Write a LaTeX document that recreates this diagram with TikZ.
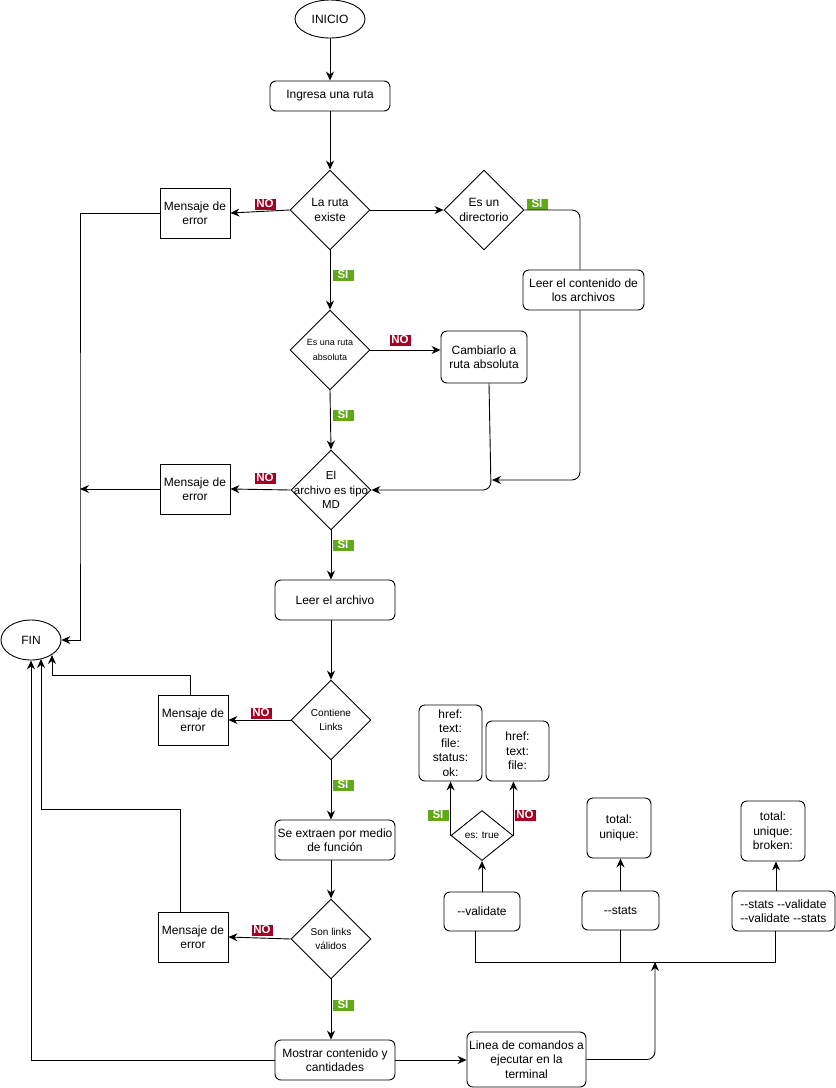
\documentclass[tikz,border=0pt]{standalone}
\usepackage{fontspec}
\setmainfont{Liberation Sans}
\usetikzlibrary{shapes.geometric,arrows.meta,calc}
\definecolor{nored}{HTML}{A20025}
\definecolor{sigreen}{HTML}{60A917}
\begin{document}
\begin{tikzpicture}[x=1pt,y=-1pt,
  base/.style={draw, line width=0.9pt, align=center, inner sep=1pt, font=\fontsize{12}{14.5}\selectfont},
  rbox/.style={base, rounded corners=6pt},
  sbox/.style={base},
  oval/.style={base, ellipse},
  dia/.style={draw, line width=0.9pt, shape=diamond, inner sep=0pt, minimum width=80pt, minimum height=80pt},
  dtext/.style={align=center, inner sep=0pt, font=\fontsize{12}{14.5}\selectfont},
  dsmall/.style={align=center, inner sep=0pt, font=\fontsize{10}{14.5}\selectfont},
  dtiny/.style={align=center, inner sep=0pt, font=\fontsize{9}{14.5}\selectfont},
  lab/.style={inner sep=0pt, minimum width=21pt, minimum height=11pt, text=white, font=\fontsize{11.5}{11}\selectfont\bfseries},
  nolab/.style={lab, fill=nored},
  silab/.style={lab, fill=sigreen},
  arr/.style={line width=0.9pt, -{Stealth[length=9pt,width=8pt,inset=3pt]}},
  ln/.style={line width=0.9pt}
]
\useasboundingbox (0,0) rectangle (836,1088);

% main column
\node[oval, minimum width=70pt, minimum height=38pt] (ini) at (330,19) {INICIO};
\node[rbox, minimum width=120pt, minimum height=30pt] (ing) at (330,96) {Ingresa una ruta};
\node[dia, label={[dtext]center:La ruta\\existe}] (d1) at (330,210) {};
\node[sbox, minimum width=70pt, minimum height=50pt] (m1) at (195,213) {Mensaje de\\error};
\node[dia, label={[dtext]center:Es un\\directorio}] (d2) at (484,210) {};
\node[rbox, minimum width=121pt, minimum height=40pt] (lc) at (583.5,290) {Leer el contenido de\\los archivos};
\node[dia, label={[dtiny]center:Es una ruta\\absoluta}] (d3) at (330,350) {};
\node[rbox, minimum width=86pt, minimum height=52pt] (cam) at (484,357) {Cambiarlo a\\ruta absoluta};
\node[dia, label={[dtext, font=\fontsize{11.5}{14.5}\selectfont]center:El\\archivo es tipo\\MD}] (d4) at (331,490) {};
\node[sbox, minimum width=70pt, minimum height=50pt] (m2) at (195,489) {Mensaje de\\error};
\node[rbox, minimum width=120pt, minimum height=40pt] (la) at (335,600) {Leer el archivo};
\node[oval, minimum width=60pt, minimum height=40pt] (fin) at (31,640) {FIN};
\node[dia, label={[dsmall]center:Contiene\\Links}] (d5) at (331,720) {};
\node[sbox, minimum width=70pt, minimum height=50pt] (m3) at (193,720) {Mensaje de\\error};
\node[rbox, minimum width=120pt, minimum height=40pt] (se) at (335,840) {Se extraen por medio\\de función};
\node[dia, label={[dsmall]center:Son links\\válidos}] (d6) at (331,939) {};
\node[sbox, minimum width=70pt, minimum height=50pt] (m4) at (193,937) {Mensaje de\\error};
\node[rbox, minimum width=120pt, minimum height=40pt] (mos) at (335,1060) {Mostrar contenido y\\cantidades};
\node[rbox, minimum width=119pt, minimum height=55pt] (lin) at (526.5,1059.5) {Linea de comandos a\\ejecutar en la\\terminal};

% right group
\node[rbox, minimum width=63pt, minimum height=76pt] (hA) at (450.5,743) {href:\\text:\\file:\\status:\\ok:};
\node[rbox, minimum width=63pt, minimum height=60pt] (hB) at (517.5,751) {href:\\text:\\file:};
\node[dia, minimum width=62pt, minimum height=50pt, label={[dsmall]center:es: true}] (es) at (482,835.5) {};
\node[rbox, minimum width=76pt, minimum height=39pt] (val) at (482,911.5) {-\kern0pt-validate};
\node[rbox, minimum width=64pt, minimum height=60pt] (tu) at (619,828) {total:\\unique:};
\node[rbox, minimum width=77pt, minimum height=39pt] (st) at (620.5,910.5) {-\kern0pt-stats};
\node[rbox, minimum width=64pt, minimum height=60pt] (tub) at (773,831) {total:\\unique:\\broken:};
\node[rbox, minimum width=103pt, minimum height=40pt] (sv) at (783.5,911) {-\kern0pt-stats -\kern0pt-validate\\-\kern0pt-validate -\kern0pt-stats};

% labels
\node[nolab] (l1) at (265,204) {NO};
\node[silab] (l2) at (537,204) {SI};
\node[silab] (l3) at (343,275) {SI};
\node[nolab] (l4) at (400,340) {NO};
\node[silab] (l5) at (343,415) {SI};
\node[nolab] (l6) at (265,478) {NO};
\node[silab] (l7) at (343,545) {SI};
\node[nolab] (l8) at (261,713) {NO};
\node[silab] (l9) at (343,785) {SI};
\node[nolab] (l10) at (262,930) {NO};
\node[silab] (l11) at (343,1005) {SI};
\node[silab] (l12) at (438,815) {SI};
\node[nolab] (l13) at (525,815) {NO};

% free-end coordinates
\coordinate (joinA) at (492,480);
\coordinate (vline) at (80,489);
\coordinate (f1) at (41,659);
\coordinate (f2) at (52,655);
\coordinate (busin) at (655,962);

% connectors
\draw[arr] (ini.south) -- (ing.north);
\draw[arr] (ing.south) -- (d1.north);
\draw[arr] (d1.west) -- (m1.east);
\draw[arr] (d1.east) -- (d2.west);
\draw[ln, rounded corners=8pt] (d2.east) -| ([xshift=-3.5pt]lc.north);
\draw[arr, rounded corners=8pt] ([xshift=-3.5pt]lc.south) |- (joinA);
\draw[arr] (d1.south) -- (d3.north);
\draw[arr] (d3.east) -- (d3.east -| cam.west);
\draw[arr, rounded corners=8pt] ([xshift=5pt]cam.south) -- ([xshift=7pt]cam.south |- d4.east) -- (d4.east);
\draw[arr] (d3.south) -- (d4.north);
\draw[arr] (d4.west) -- (m2.east);
\draw[arr] (m2.west) -- (vline);
\draw[arr] (m1.west) -| (vline) |- (fin.east);
\draw[arr] (d4.south) -- (d4.south |- la.north);
\draw[arr] (la.south -| d5.north) -- (d5.north);
\draw[arr] (d5.west) -- (m3.east);
\draw[arr] ([xshift=-3pt]m3.north) -- ++(0,-19) -| (f2);
\draw[arr] (d5.south) -- (d5.south |- se.north);
\draw[arr] (se.south -| d6.north) -- (d6.north);
\draw[arr] (d6.west) -- (m4.east);
\draw[arr] ([xshift=-13pt]m4.north) -- ++(0,-102) -| (f1);
\draw[arr] (d6.south) -- (d6.south |- mos.north);
\draw[arr] (mos.west) -| (fin.south);
\draw[arr] (mos.east) -- (mos.east -| lin.west);
\draw[arr, rounded corners=8pt] (lin.east) -| (busin);
\draw[ln] ([xshift=-7pt]val.south) -- ++(0,31) -| ([xshift=-8.5pt]sv.south);
\draw[ln] (st.south) -- ++(0,32);
\draw[arr] (val.north) -- (es.south);
\draw[arr] (es.west) -- (es.west |- hA.south);
\draw[arr] (es.east) -- (es.east |- hB.south);
\draw[arr] (st.north) -- (st.north |- tu.south);
\draw[arr] ([xshift=-7.5pt]sv.north) -- ([xshift=-7.5pt]sv.north |- tub.south);
\end{tikzpicture}
\end{document}
